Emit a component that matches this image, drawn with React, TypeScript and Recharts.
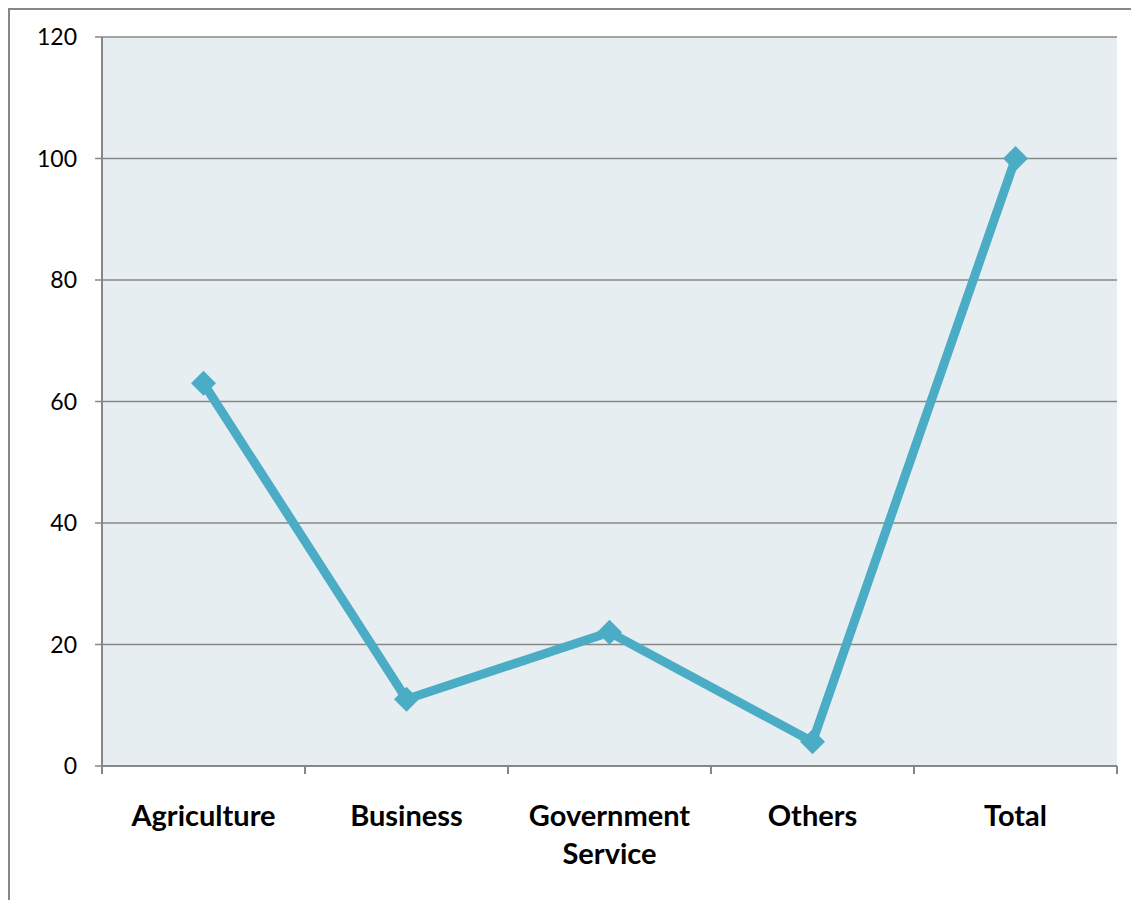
import { LineChart, Line, XAxis, YAxis, CartesianGrid } from 'recharts';

const categories = ['Agriculture', 'Business', 'Government Service', 'Others', 'Total'];
const values = [63, 11, 22, 4, 100];
const yTicks = [0, 20, 40, 60, 80, 100, 120];

// points sit in the middle of each category band; integer positions are the band edges
const data = categories.map((name, i) => ({ x: i + 0.5, name, value: values[i] }));
const xTicks = [...categories.flatMap((_, i) => [i, i + 0.5]), categories.length];

const FONT = 'Lato, "Open Sans", sans-serif';
const AXIS = '#878787';
const LINE = '#4BACC6';
const TICK_SIZE = 8;
const TICK_MARGIN = 31;

const CategoryTick = (props: any) => {
  const { x, y, payload } = props;
  const v = payload.value as number;
  if (Number.isInteger(v)) {
    const top = y - TICK_MARGIN - TICK_SIZE;
    return <line x1={x} x2={x} y1={top} y2={top + TICK_SIZE} stroke={AXIS} strokeWidth={2} />;
  }
  // the band is too narrow for two-word labels, so each word gets its own line
  const lines = categories[Math.floor(v)].split(' ');
  return (
    <text
      x={x}
      y={y}
      textAnchor="middle"
      fontFamily={FONT}
      fontWeight="bold"
      fontSize={29}
      fill="#000"
    >
      {lines.map((w, i) => (
        <tspan key={w} x={x} dy={i === 0 ? '0.71em' : 38}>
          {w}
        </tspan>
      ))}
    </text>
  );
};

const Diamond = (props: any) => {
  const { cx, cy, index } = props;
  if (cx == null || cy == null) return null;
  const r = 12.5;
  return (
    <polygon
      key={`d-${index}`}
      points={`${cx},${cy - r} ${cx + r},${cy} ${cx},${cy + r} ${cx - r},${cy}`}
      fill={LINE}
    />
  );
};

export default function App() {
  return (
    <div
      style={{
        width: 1131,
        height: 892,
        borderTop: `2px solid ${AXIS}`,
        borderLeft: `2px solid ${AXIS}`,
        boxSizing: 'border-box',
        background: '#fff',
      }}
    >
      <LineChart
        width={1129}
        height={890}
        data={data}
        margin={{ top: 27, right: 22, bottom: 0, left: 0 }}
      >
        <CartesianGrid
          vertical={false}
          stroke={AXIS}
          strokeWidth={1.5}
          fill="#E7EEF2"
          fillOpacity={1}
        />
        <XAxis
          type="number"
          dataKey="x"
          domain={[0, categories.length]}
          ticks={xTicks}
          interval={0}
          height={134}
          tickLine={false}
          tickSize={TICK_SIZE}
          tickMargin={TICK_MARGIN}
          axisLine={{ stroke: AXIS, strokeWidth: 2 }}
          tick={<CategoryTick />}
        />
        <YAxis
          domain={[0, 120]}
          ticks={yTicks}
          interval={0}
          width={92}
          tickSize={7}
          tickMargin={18}
          tickLine={{ stroke: AXIS, strokeWidth: 1.5 }}
          axisLine={{ stroke: AXIS, strokeWidth: 2 }}
          tick={{ fill: '#000', fontSize: 23, fontFamily: FONT }}
        />
        <Line
          type="linear"
          dataKey="value"
          stroke={LINE}
          strokeWidth={9}
          dot={Diamond}
          activeDot={false}
          isAnimationActive={false}
        />
      </LineChart>
    </div>
  );
}
